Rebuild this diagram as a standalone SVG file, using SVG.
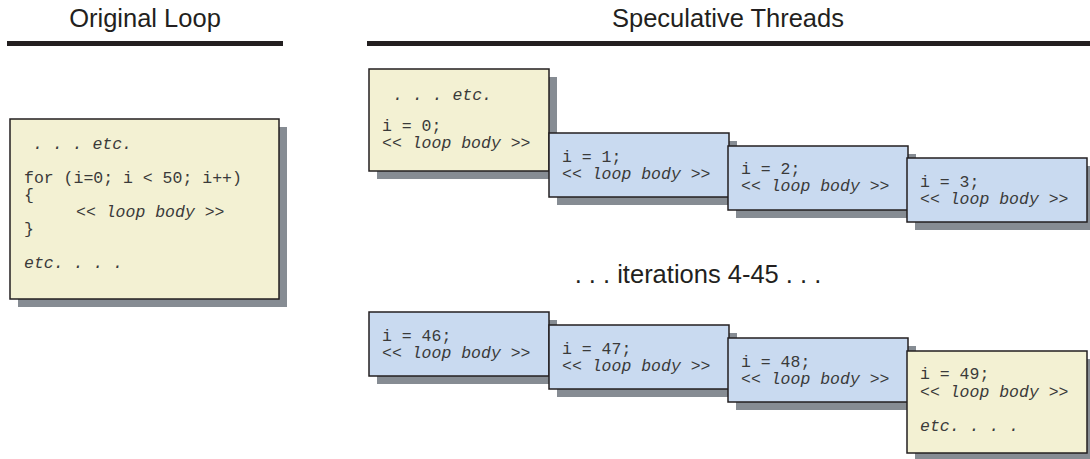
<svg xmlns="http://www.w3.org/2000/svg" width="1090" height="459" viewBox="0 0 1090 459">
  <style>
    .hdr { font-family: "Liberation Sans", Arial, sans-serif; font-size: 25.5px; fill: #231f20; text-anchor: middle; }
    .bar { fill: #231f20; }
    .shadow { fill: #868c93; }
    .box { stroke: #231f20; stroke-width: 1.5; }
    .seq { fill: #f3f1d3; }
    .spec { fill: #c9daf0; }
    .code { font-family: "Liberation Mono", "Courier New", monospace; font-size: 16.5px; fill: #3a3a3a; }
    .it { font-style: italic; }
  </style>

  <!-- column headings -->
  <g id="headings">
    <text class="hdr" x="145" y="27">Original Loop</text>
    <rect class="bar" x="7" y="41" width="276" height="5"/>
    <text class="hdr" x="728" y="27">Speculative Threads</text>
    <rect class="bar" x="367" y="41" width="723" height="5"/>
  </g>

  <!-- sequential loop -->
  <g id="original-loop">
    <rect class="shadow" x="18" y="127" width="269" height="180"/>
    <rect class="box seq" x="10" y="119" width="269" height="180"/>
    <text class="code it" x="33" y="149">. . . etc.</text>
    <text class="code" x="24" y="183">for (i=0; i &lt; 50; i++)</text>
    <text class="code" x="24" y="200">{</text>
    <text class="code it" x="76" y="217">&lt;&lt; loop body &gt;&gt;</text>
    <text class="code" x="24" y="234">}</text>
    <text class="code it" x="24" y="268">etc. . . .</text>
  </g>

  <!-- first wave of threads -->
  <g id="thread-0">
    <rect class="shadow" x="377" y="77" width="180" height="102"/>
    <rect class="box seq" x="369" y="69" width="180" height="102"/>
    <text class="code it" x="393" y="99.5">. . . etc.</text>
    <text class="code" x="382" y="131">i = 0;</text>
    <text class="code it" x="382" y="148">&lt;&lt; loop body &gt;&gt;</text>
  </g>
  <g id="thread-1">
    <rect class="shadow" x="557" y="141" width="180" height="64"/>
    <rect class="box spec" x="549" y="133" width="180" height="64"/>
    <text class="code" x="562" y="161.5">i = 1;</text>
    <text class="code it" x="562" y="178.5">&lt;&lt; loop body &gt;&gt;</text>
  </g>
  <g id="thread-2">
    <rect class="shadow" x="736" y="154" width="180" height="64"/>
    <rect class="box spec" x="728" y="146" width="180" height="64"/>
    <text class="code" x="741" y="174">i = 2;</text>
    <text class="code it" x="741" y="191">&lt;&lt; loop body &gt;&gt;</text>
  </g>
  <g id="thread-3">
    <rect class="shadow" x="915" y="166" width="180" height="64"/>
    <rect class="box spec" x="907" y="158" width="180" height="64"/>
    <text class="code" x="920" y="186.5">i = 3;</text>
    <text class="code it" x="920" y="203.5">&lt;&lt; loop body &gt;&gt;</text>
  </g>

  <g id="gap-label">
    <text class="hdr" x="698" y="283">. . . iterations 4-45 . . .</text>
  </g>

  <!-- last wave of threads -->
  <g id="thread-46">
    <rect class="shadow" x="377" y="320" width="180" height="64"/>
    <rect class="box spec" x="369" y="312" width="180" height="64"/>
    <text class="code" x="382" y="340.5">i = 46;</text>
    <text class="code it" x="382" y="357.5">&lt;&lt; loop body &gt;&gt;</text>
  </g>
  <g id="thread-47">
    <rect class="shadow" x="557" y="333" width="180" height="64"/>
    <rect class="box spec" x="549" y="325" width="180" height="64"/>
    <text class="code" x="562" y="353.5">i = 47;</text>
    <text class="code it" x="562" y="370.5">&lt;&lt; loop body &gt;&gt;</text>
  </g>
  <g id="thread-48">
    <rect class="shadow" x="736" y="346" width="180" height="64"/>
    <rect class="box spec" x="728" y="338" width="180" height="64"/>
    <text class="code" x="741" y="366.5">i = 48;</text>
    <text class="code it" x="741" y="383.5">&lt;&lt; loop body &gt;&gt;</text>
  </g>
  <g id="thread-49">
    <rect class="shadow" x="915" y="359" width="180" height="102"/>
    <rect class="box seq" x="907" y="351" width="180" height="102"/>
    <text class="code" x="920" y="379">i = 49;</text>
    <text class="code it" x="920" y="396.5">&lt;&lt; loop body &gt;&gt;</text>
    <text class="code it" x="920" y="431">etc. . . .</text>
  </g>

  <!-- the threads are placed side by side; no connectors are drawn -->
  <g id="connectors"/>
</svg>
